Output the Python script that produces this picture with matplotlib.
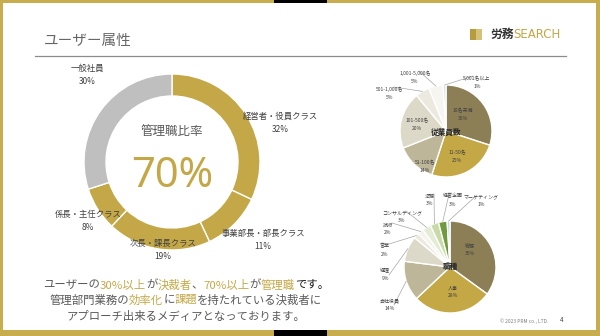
import matplotlib
matplotlib.use("Agg")
import matplotlib.pyplot as plt
from matplotlib.patches import Rectangle
import numpy as np

JP = ["Noto Sans CJK JP", "DejaVu Sans"]
plt.rcParams["font.family"] = JP

W, H = 600, 336
GOLD = "#C4A746"
GRAY_TXT = "#595959"

# ---- data ----
role_labels = ["経営者・役員クラス", "事業部長・部長クラス", "次長・課長クラス", "係長・主任クラス", "一般社員"]
role_values = [32, 11, 19, 8, 30]
role_colors = [GOLD, GOLD, GOLD, GOLD, "#BFBFBF"]
manager_ratio = "70%"

size_labels = ["10名未満", "11-50名", "51-100名", "101-500名", "501-1,000名", "1,001-5,000名", "5,001名以上"]
size_values = [30, 25, 14, 20, 5, 5, 1]
size_colors = ["#8C7F56", "#C4A846", "#BDB698", "#DDD9C8", "#ECE9DF", "#F6F5F0", "#D6E3EE"]

job_labels = ["総務", "人事", "会社役員", "経理", "営業", "技術", "コンサルティング", "法務", "経営企画", "マーケティング"]
job_values = [35, 28, 14, 9, 2, 2, 3, 3, 3, 1]
job_colors = ["#8C7F56", "#C4A846", "#BDB698", "#DDD9C8", "#ECE9DF", "#F5F3EC",
              "#E4ECD5", "#C9DAA9", "#6F9A3E", "#BDD7EE"]

# label positions in image pixels (x, y from top)
role_label_pos = [(280, 123), (263, 240), (163, 250), (88, 221), (87, 75)]
size_label_pos = [(463, 115), (457, 157), (425, 167), (417, 125), (390, 93), (415, 77), (477, 82)]
size_outside = [4, 5, 6]
job_label_pos = [(470, 250), (453, 292), (390, 305), (385, 275), (385, 250), (388, 229),
                 (402, 217), (430, 200), (453, 200), (481, 201)]
job_outside = [2, 3, 4, 5, 6, 7, 8, 9]

fig = plt.figure(figsize=(W / 100, H / 100), dpi=100)
ax = fig.add_axes([0, 0, 1, 1])


def Y(y):
    return H - y


def pie(values, colors, cx, cy, r, width=None):
    wp = dict(edgecolor="white", linewidth=1.0)
    if width:
        wp["width"] = width
    wedges, _ = ax.pie(values, colors=colors, startangle=90, counterclock=False,
                       center=(cx, Y(cy)), radius=r, wedgeprops=wp, frame=True)
    return wedges


def leaders(wedges, labels_pos, idx, cx, cy, r):
    for i in idx:
        w = wedges[i]
        a = np.deg2rad((w.theta1 + w.theta2) / 2)
        px, py = cx + r * np.cos(a), Y(cy) + r * np.sin(a)
        lx, ly = labels_pos[i]
        ax.plot([lx + (4 if lx < cx else -4), px], [Y(ly) + 6 if ly < cy else Y(ly), py],
                color="#A6A6A6", lw=0.5)


# ---- donut ----
dcx, dcy, dr = 172, 162, 88
pie(role_values, role_colors, dcx, dcy, dr, width=22)
for lab, v, (x, y) in zip(role_labels, role_values, role_label_pos):
    ax.text(x, Y(y), f"{lab}\n{v}%", ha="center", va="center", fontsize=6,
            color="#404040", linespacing=1.6)
ax.text(dcx, Y(131), "管理職比率", ha="center", va="center", fontsize=9, color=GRAY_TXT)
ax.text(dcx, Y(176), manager_ratio, ha="center", va="center", fontsize=30, color=GOLD,
        family=["Noto Sans", "DejaVu Sans"])

# ---- company size pie ----
scx, scy, sr = 446, 131, 46
sw = pie(size_values, size_colors, scx, scy, sr)
for lab, v, (x, y) in zip(size_labels, size_values, size_label_pos):
    ax.text(x, Y(y), f"{lab}\n{v}%", ha="center", va="center", fontsize=3.6,
            color="#404040", linespacing=1.7)
leaders(sw, size_label_pos, size_outside, scx, scy, sr)
ax.text(scx, Y(scy + 1), "従業員数", ha="center", va="center", fontsize=5.5,
        weight="bold", color="#262626")

# ---- job pie ----
jcx, jcy, jr = 450, 267, 46
jw = pie(job_values, job_colors, jcx, jcy, jr)
for lab, v, (x, y) in zip(job_labels, job_values, job_label_pos):
    ax.text(x, Y(y), f"{lab}\n{v}%", ha="center", va="center", fontsize=3.6,
            color="#404040", linespacing=1.7)
leaders(jw, job_label_pos, job_outside, jcx, jcy, jr)
ax.text(jcx, Y(jcy), "職種", ha="center", va="center", fontsize=5.5,
        weight="bold", color="#262626")

# ---- header ----
ax.text(44, Y(41), "ユーザー属性", ha="left", va="center", fontsize=10.5, color="#666666")
ax.plot([35, 566], [Y(55.5), Y(55.5)], color="#8C8C8C", lw=0.9)
ax.add_patch(Rectangle((470, Y(40)), 6, 11, color="#B89B3C", lw=0))
ax.add_patch(Rectangle((476, Y(40)), 6, 11, color="#D6C17A", lw=0))
ax.text(490, Y(34.5), "労務", ha="left", va="center", fontsize=8.5, weight="bold", color="#333333")
ax.text(513, Y(34.5), "SEARCH", ha="left", va="center", fontsize=8.5, color=GOLD,
        family=["Liberation Sans Narrow", "DejaVu Sans"])

# ---- message ----
BLACK = "#1A1A1A"
lines = [
    (285, [("ユーザーの", GRAY_TXT), ("30%以上", GOLD), ("が", GRAY_TXT), ("決裁者", GOLD),
           ("、", GRAY_TXT), ("70%以上", GOLD), ("が", GRAY_TXT), ("管理職", GOLD), ("です。", BLACK)]),
    (300, [("管理部門業務の", GRAY_TXT), ("効率化", GOLD), ("に", GRAY_TXT), ("課題", GOLD),
           ("を持たれている決裁者に", GRAY_TXT)]),
    (316, [("アプローチ出来るメディアとなっております。", GRAY_TXT)]),
]
r = fig.canvas.get_renderer()
for y, parts in lines:
    full = "".join(s for s, _ in parts)
    probe = ax.text(0, 0, full, fontsize=8.2)
    total = probe.get_window_extent(r).width
    x0 = 186 - total / 2
    prefix = ""
    for s, c in parts:
        if prefix:
            probe.set_text(prefix)
            off = probe.get_window_extent(r).width
        else:
            off = 0
        ax.text(x0 + off, Y(y), s, color=c, fontsize=8.2, va="center", ha="left")
        prefix += s
    probe.remove()

ax.text(524, Y(321), "© 2023 PRM co., LTD.", ha="center", va="center", fontsize=3.5, color="#7F7F7F")
ax.text(562, Y(320), "4", ha="center", va="center", fontsize=4.5, color="#404040")

# ---- frame ----
for rect in [(0, 0, 3, H), (596, 0, 4, H), (0, 0, W, 3), (0, 330, W, 6)]:
    x0, y0, w, h = rect
    ax.add_patch(Rectangle((x0, Y(y0 + h)), w, h, color="#C7AD4E", lw=0))
ax.add_patch(Rectangle((274, Y(3)), 53, 3, color="black", lw=0))
ax.add_patch(Rectangle((274, Y(336)), 53, 6, color="black", lw=0))

ax.set_xlim(0, W)
ax.set_ylim(0, H)
ax.set_aspect("auto")
ax.axis("off")
fig.savefig("out.png", dpi=100, facecolor="white")
